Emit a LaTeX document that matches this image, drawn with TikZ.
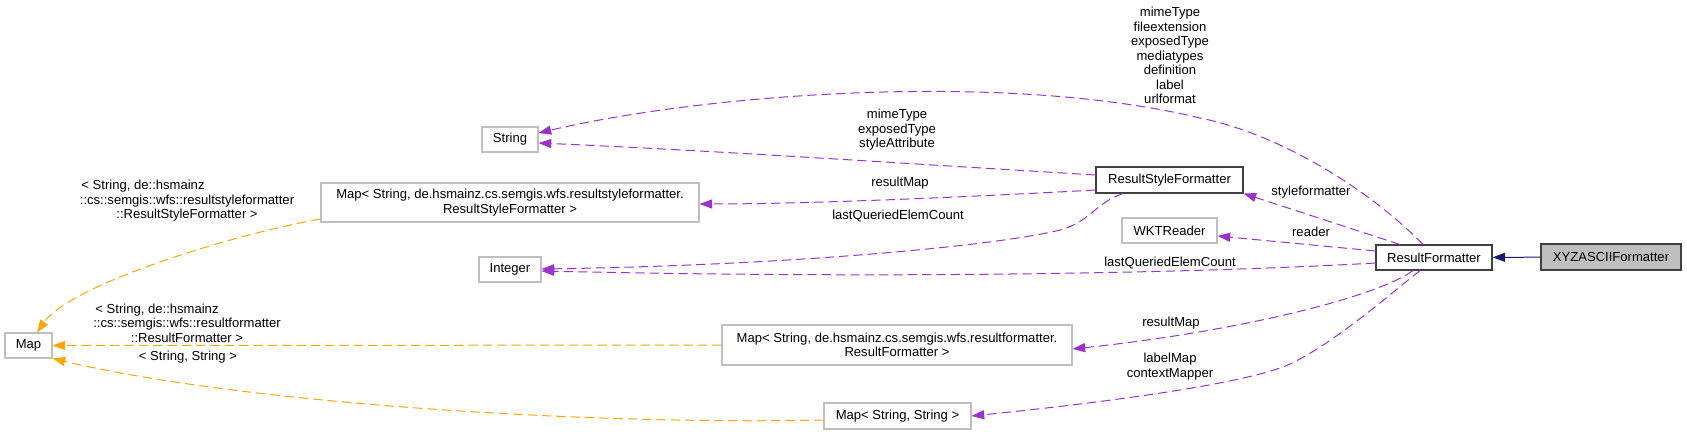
\documentclass[tikz,border=0pt]{standalone}
\usepackage{fontspec}
\setsansfont{Liberation Sans}
\usetikzlibrary{arrows.meta}
\definecolor{edgepurple}{HTML}{9A32CD}
\definecolor{edgeorange}{HTML}{FFA500}
\definecolor{edgenavy}{HTML}{191970}
\definecolor{boxgray}{HTML}{BFBFBF}
\definecolor{boxdark}{HTML}{404040}
\begin{document}
\begin{tikzpicture}[x=0.75pt, y=-0.75pt,
  class node/.style={draw=boxgray, line width=0.8pt, inner sep=0pt, align=center, minimum height=18.75pt},
  used class/.style={class node, draw=boxdark},
  this class/.style={used class, fill=boxgray},
  member edge/.style={-{Triangle[length=9.5pt,width=6.8pt]}, draw=edgepurple, line width=0.75pt, dash pattern=on 7pt off 3.75pt},
  template edge/.style={member edge, draw=edgeorange},
  inherit edge/.style={-{Triangle[length=9.5pt,width=6.8pt]}, draw=edgenavy, line width=0.75pt}]
        \tikzstyle{every node}=[font=\sffamily\fontsize{9.8}{10.9}\selectfont]
        \useasboundingbox (0,0) rectangle (1687,435);

          \node[class node, minimum width=35.25pt] (map) at (28.5,345.5) {Map};
          \node[class node, minimum width=42pt] (string) at (510,139.5) {String};
          \node[class node, minimum width=283.5pt, minimum height=29.25pt] (mapstyle) at (510,202.5) {Map< String, de.hsmainz.cs.semgis.wfs.resultstyleformatter.\\ResultStyleFormatter >};
          \node[class node, minimum width=46.5pt] (integer) at (510,269.5) {Integer};
          \node[class node, minimum width=262.5pt, minimum height=30pt] (mapresult) at (897,345) {Map< String, de.hsmainz.cs.semgis.wfs.resultformatter.\\ResultFormatter >};
          \node[class node, minimum width=110.25pt, minimum height=19.5pt] (mapstring) at (897.5,416) {Map< String, String >};
          \node[used class, minimum width=110.25pt, minimum height=19.5pt] (stylefmt) at (1169.5,180) {ResultStyleFormatter};
          \node[class node, minimum width=71.25pt] (wkt) at (1169.5,230.5) {WKTReader};
          \node[used class, minimum width=87pt] (resultfmt) at (1434,257.5) {ResultFormatter};
          \node[this class, minimum width=105pt, minimum height=19.5pt] (xyz) at (1611,257) {XYZASCIIFormatter};

          % edge labels
          \node[align=center] (l-str-rf) at (1170,55.5) {mimeType\\fileextension\\exposedType\\mediatypes\\definition\\label\\urlformat};
          \node[align=center] (l-str-rsf) at (897,130) {mimeType\\exposedType\\styleAttribute};
          \node (l-map-rsf) at (900,183) {resultMap};
          \node (l-int-rsf) at (898,216) {lastQueriedElemCount};
          \node (l-rsf-rf) at (1311,192) {styleformatter};
          \node (l-wkt-rf) at (1311,232) {reader};
          \node (l-int-rf) at (1170,263) {lastQueriedElemCount};
          \node (l-map-rf) at (1171,323) {resultMap};
          \node[align=center] (l-ss-rf) at (1170,366.5) {labelMap\\contextMapper};
          \node[align=center] (l-map-style) at (187,201) {< String, de::hsmainz\makebox[66pt]{}\\::cs::semgis::wfs::resultstyleformatter\\::ResultStyleFormatter >};
          \node[align=center] (l-map-result) at (187,323) {< String, de::hsmainz\makebox[45pt]{}\\::cs::semgis::wfs::resultformatter\\::ResultFormatter >};
          \node (l-map-string) at (188,357) {< String, String >};

          % members
          \draw[member edge] ([shift={(-11,0)}]resultfmt.north) .. controls (1370,190) and (1280,134) .. (1200,118) .. controls (1000,70) and (700,95) .. ([shift={(0,-6.5)}]string.east);
          \draw[member edge] ([shift={(0,-5)}]stylefmt.west) .. controls (850,160) and (700,150) .. ([shift={(0,3.5)}]string.east);
          \draw[member edge] ([shift={(0,10)}]stylefmt.west) .. controls (950,198) and (800,204) .. ([shift={(0,1.5)}]mapstyle.east);
          \draw[member edge] ([shift={(-46.5,0)}]stylefmt.south) .. controls (1095,203) and (1090,222) .. (1060,230) .. controls (1000,245) and (800,265) .. ([shift={(0,-0.5)}]integer.east);
          \draw[member edge] ([shift={(-34,0)}]resultfmt.north) -- (stylefmt.south east);
          \draw[member edge] ([shift={(0,-6.5)}]resultfmt.west) -- ([shift={(0,5.5)}]wkt.east);
          \draw[member edge] ([shift={(0,5.5)}]resultfmt.west) .. controls (1200,273) and (900,279) .. ([shift={(0,1.5)}]integer.east);
          \draw[member edge] ([shift={(-21,0)}]resultfmt.south) .. controls (1380,295) and (1250,330) .. ([shift={(0,4)}]mapresult.east);
          \draw[member edge] ([shift={(-14,0)}]resultfmt.south) .. controls (1395,290) and (1335,343) .. (1290,364) .. controls (1240,387) and (1060,407) .. (mapstring.east);

          % inheritance and templates
          \draw[inherit edge] (xyz) -- (resultfmt);
          \draw[template edge] ([shift={(0,16.5)}]mapstyle.west) .. controls (230,235) and (70,285) .. ([shift={(8.5,0)}]map.north);
          \draw[template edge] (mapresult) -- (map);
          \draw[template edge] ([shift={(0,4)}]mapstring.west) .. controls (600,425) and (250,405) .. (map.south east);

        \end{tikzpicture}
\end{document}
